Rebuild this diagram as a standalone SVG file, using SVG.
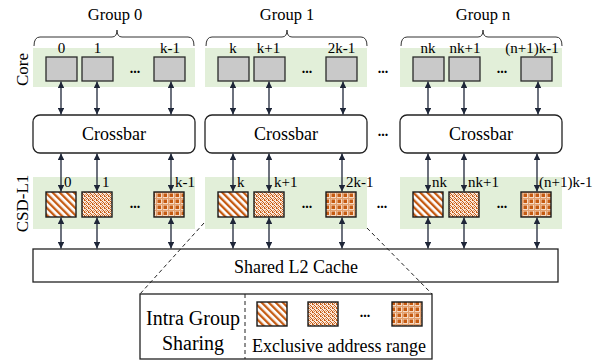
<svg xmlns="http://www.w3.org/2000/svg" width="611" height="364" viewBox="0 0 611 364" font-family="'Liberation Serif', Tinos, 'Times New Roman', Times, 'DejaVu Serif', serif">
  <style>
    text { font-family: "Liberation Serif", Tinos, "Times New Roman", Times, "DejaVu Serif", serif; fill: #000; }
    .grp { font-size: 16.5px; text-anchor: middle; }
    .idx { font-size: 15px; }
    .mid { text-anchor: middle; }
    .big { font-size: 18px; text-anchor: middle; }
    .side { font-size: 17px; text-anchor: middle; }
    .dots { font-size: 14px; font-weight: bold; text-anchor: middle; }
    .band { fill: #e2efd9; }
    .core { fill: #c9c9c9; stroke: #2a2a2a; stroke-width: 1.3; }
    .l1 { stroke: #1a1a1a; stroke-width: 1.4; }
    .xbar { fill: #fff; stroke: #222; stroke-width: 1.3; }
    .brace { fill: none; stroke: #333; stroke-width: 1; }
    .link { stroke: #1e2638; stroke-width: 1.3; marker-start: url(#ah); marker-end: url(#ah); }
    .zoomline { stroke: #222; stroke-width: 1; stroke-dasharray: 4 3; fill: none; }
  </style>
  <defs>
    <marker id="ah" viewBox="0 0 10 10" refX="10" refY="5" markerWidth="5" markerHeight="5" orient="auto-start-reverse" markerUnits="strokeWidth">
      <path d="M0,0 L10,5 L0,10 z" fill="#1e2638"/>
    </marker>
    <!-- diagonal stripes -->
    <pattern id="pStripe" patternUnits="userSpaceOnUse" width="5" height="5" patternTransform="rotate(-45)">
      <rect width="5" height="5" fill="#fff"/>
      <rect width="2.3" height="5" fill="#c55a11"/>
    </pattern>
    <!-- fine speckle -->
    <pattern id="pSpeck" patternUnits="userSpaceOnUse" width="4" height="4">
      <rect width="4" height="4" fill="#fbe9dc"/>
      <rect x="0" y="0" width="1" height="1" fill="#c55a11"/>
      <rect x="1" y="0" width="1" height="1" fill="#d77a3c"/>
      <rect x="2" y="1" width="1" height="1" fill="#c55a11"/>
      <rect x="3" y="2" width="1" height="1" fill="#c55a11"/>
      <rect x="1" y="2" width="1" height="1" fill="#e09a6a"/>
      <rect x="0" y="3" width="1" height="1" fill="#c55a11"/>
      <rect x="2" y="3" width="1" height="1" fill="#d77a3c"/>
    </pattern>
    <!-- plaid blocks -->
    <pattern id="pPlaid" patternUnits="userSpaceOnUse" width="6" height="6">
      <rect width="6" height="6" fill="#f6d9c3"/>
      <rect x="0" y="0" width="6" height="1" fill="#e3a170"/>
      <rect x="0" y="0" width="1" height="6" fill="#e3a170"/>
      <rect x="1.5" y="1.5" width="3.5" height="3.5" fill="#c55a11"/>
    </pattern>
  </defs>

  <!-- side labels -->
  <text class="side" transform="translate(28,69.5) rotate(-90)">Core</text>
  <text class="side" transform="translate(28,203.5) rotate(-90)">CSD-L1</text>

  <!-- green bands -->
  <g id="bands">
    <rect class="band" x="33" y="48" width="162" height="39"/>
    <rect class="band" x="205" y="48" width="162" height="39"/>
    <rect class="band" x="400" y="48" width="162" height="39"/>
    <rect class="band" x="33" y="177" width="162" height="52"/>
    <rect class="band" x="205" y="177" width="162" height="52"/>
    <rect class="band" x="400" y="177" width="162" height="52"/>
  </g>

  <!-- shared L2 -->
  <g id="l2">
    <rect x="33" y="249" width="525" height="33" fill="#fff" stroke="#222" stroke-width="1.3"/>
    <text class="big" x="296" y="273">Shared L2 Cache</text>
  </g>

  <!-- group 0 -->
  <g id="group0">
    <text class="grp" x="115" y="20">Group 0</text>
    <path class="brace" d="M34,46 Q34,37 40,37 L112,37 Q117,37 117,30 Q117,37 122,37 L188,37 Q194,37 194,46"/>
    <text class="idx mid" x="61.5" y="53">0</text>
    <text class="idx mid" x="97.5" y="53">1</text>
    <text class="idx mid" x="170" y="53">k-1</text>
    <rect class="core" x="46" y="57" width="31" height="24"/>
    <rect class="core" x="82" y="57" width="31" height="24"/>
    <rect class="core" x="154" y="57" width="31" height="24"/>
    <text class="dots" x="135" y="73">...</text>
    <rect class="xbar" x="33" y="115" width="162" height="38" rx="7"/>
    <text class="big" x="114" y="140">Crossbar</text>
    <rect class="l1" fill="url(#pStripe)" x="46" y="192" width="30" height="25"/>
    <rect class="l1" fill="url(#pSpeck)" x="82" y="192" width="30" height="25"/>
    <rect class="l1" fill="url(#pPlaid)" x="154" y="192" width="30" height="25"/>
    <text class="dots" x="135" y="208">...</text>
    <text class="idx" x="64" y="187">0</text>
    <text class="idx" x="102" y="187">1</text>
    <text class="idx" x="175" y="187">k-1</text>
  </g>

  <!-- group 1 -->
  <g id="group1">
    <text class="grp" x="287" y="20">Group 1</text>
    <path class="brace" d="M206,46 Q206,37 212,37 L282,37 Q287,37 287,30 Q287,37 292,37 L361,37 Q367,37 367,46"/>
    <text class="idx mid" x="233" y="53">k</text>
    <text class="idx mid" x="268.5" y="53">k+1</text>
    <text class="idx mid" x="341.5" y="53">2k-1</text>
    <rect class="core" x="218" y="57" width="31" height="24"/>
    <rect class="core" x="254" y="57" width="31" height="24"/>
    <rect class="core" x="326" y="57" width="31" height="24"/>
    <text class="dots" x="307" y="73">...</text>
    <rect class="xbar" x="205" y="115" width="162" height="38" rx="7"/>
    <text class="big" x="286" y="140">Crossbar</text>
    <rect class="l1" fill="url(#pStripe)" x="218" y="192" width="30" height="25"/>
    <rect class="l1" fill="url(#pSpeck)" x="254" y="192" width="30" height="25"/>
    <rect class="l1" fill="url(#pPlaid)" x="326" y="192" width="30" height="25"/>
    <text class="dots" x="307" y="208">...</text>
    <text class="idx" x="237" y="187">k</text>
    <text class="idx" x="274" y="187">k+1</text>
    <text class="idx" x="346" y="187">2k-1</text>
  </g>

  <!-- group n -->
  <g id="groupn">
    <text class="grp" x="483" y="20">Group n</text>
    <path class="brace" d="M401,46 Q401,37 407,37 L478,37 Q483,37 483,30 Q483,37 488,37 L556,37 Q562,37 562,46"/>
    <text class="idx mid" x="428" y="53">nk</text>
    <text class="idx mid" x="465" y="53">nk+1</text>
    <text class="idx mid" x="532" y="53">(n+1)k-1</text>
    <rect class="core" x="413" y="57" width="31" height="24"/>
    <rect class="core" x="449" y="57" width="31" height="24"/>
    <rect class="core" x="521" y="57" width="31" height="24"/>
    <text class="dots" x="502" y="73">...</text>
    <rect class="xbar" x="400" y="115" width="162" height="38" rx="7"/>
    <text class="big" x="481" y="140">Crossbar</text>
    <rect class="l1" fill="url(#pStripe)" x="413" y="192" width="30" height="25"/>
    <rect class="l1" fill="url(#pSpeck)" x="449" y="192" width="30" height="25"/>
    <rect class="l1" fill="url(#pPlaid)" x="521" y="192" width="30" height="25"/>
    <text class="dots" x="502" y="208">...</text>
    <text class="idx" x="432" y="187">nk</text>
    <text class="idx" x="468" y="187">nk+1</text>
    <text class="idx" x="539" y="187">(n+1)k-1</text>
  </g>

  <!-- ellipses between groups -->
  <text class="dots" x="383" y="73">...</text>
  <text class="dots" x="383" y="136">...</text>
  <text class="dots" x="382" y="208">...</text>

  <!-- connectors -->
  <g id="connectors">
    <line class="link" x1="61" y1="81.5" x2="61" y2="114.5"/>
    <line class="link" x1="97" y1="81.5" x2="97" y2="114.5"/>
    <line class="link" x1="171" y1="81.5" x2="171" y2="114.5"/>
    <line class="link" x1="233" y1="81.5" x2="233" y2="114.5"/>
    <line class="link" x1="269" y1="81.5" x2="269" y2="114.5"/>
    <line class="link" x1="343" y1="81.5" x2="343" y2="114.5"/>
    <line class="link" x1="428" y1="81.5" x2="428" y2="114.5"/>
    <line class="link" x1="464" y1="81.5" x2="464" y2="114.5"/>
    <line class="link" x1="538" y1="81.5" x2="538" y2="114.5"/>

    <line class="link" x1="61" y1="153.5" x2="61" y2="191.5"/>
    <line class="link" x1="97" y1="153.5" x2="97" y2="191.5"/>
    <line class="link" x1="171" y1="153.5" x2="171" y2="191.5"/>
    <line class="link" x1="233" y1="153.5" x2="233" y2="191.5"/>
    <line class="link" x1="269" y1="153.5" x2="269" y2="191.5"/>
    <line class="link" x1="342" y1="153.5" x2="342" y2="191.5"/>
    <line class="link" x1="428" y1="153.5" x2="428" y2="191.5"/>
    <line class="link" x1="464" y1="153.5" x2="464" y2="191.5"/>
    <line class="link" x1="537" y1="153.5" x2="537" y2="191.5"/>

    <line class="link" x1="61" y1="217.5" x2="61" y2="248.5"/>
    <line class="link" x1="97" y1="217.5" x2="97" y2="248.5"/>
    <line class="link" x1="171" y1="217.5" x2="171" y2="248.5"/>
    <line class="link" x1="233" y1="217.5" x2="233" y2="248.5"/>
    <line class="link" x1="269" y1="217.5" x2="269" y2="248.5"/>
    <line class="link" x1="342" y1="217.5" x2="342" y2="248.5"/>
    <line class="link" x1="428" y1="217.5" x2="428" y2="248.5"/>
    <line class="link" x1="464" y1="217.5" x2="464" y2="248.5"/>
    <line class="link" x1="537" y1="217.5" x2="537" y2="248.5"/>

    <!-- zoom-out guides to the legend -->
    <line class="zoomline" x1="204" y1="223" x2="140" y2="294"/>
    <line class="zoomline" x1="367" y1="228" x2="432" y2="294"/>
  </g>

  <!-- legend -->
  <g id="legend">
    <rect x="140" y="294" width="292" height="65" fill="#fff" stroke="#222" stroke-width="1.3"/>
    <line x1="245" y1="294" x2="245" y2="359" stroke="#222" stroke-width="1" stroke-dasharray="4 3"/>
    <text x="193" y="325" font-size="20" text-anchor="middle">Intra Group</text>
    <text x="193" y="350" font-size="20" text-anchor="middle">Sharing</text>
    <rect class="l1" fill="url(#pStripe)" x="257" y="302" width="30" height="24"/>
    <rect class="l1" fill="url(#pSpeck)" x="308" y="302" width="30" height="24"/>
    <text class="dots" x="365" y="317">...</text>
    <rect class="l1" fill="url(#pPlaid)" x="392" y="302" width="30" height="24"/>
    <text x="339" y="352" font-size="18" text-anchor="middle">Exclusive address range</text>
  </g>
</svg>
